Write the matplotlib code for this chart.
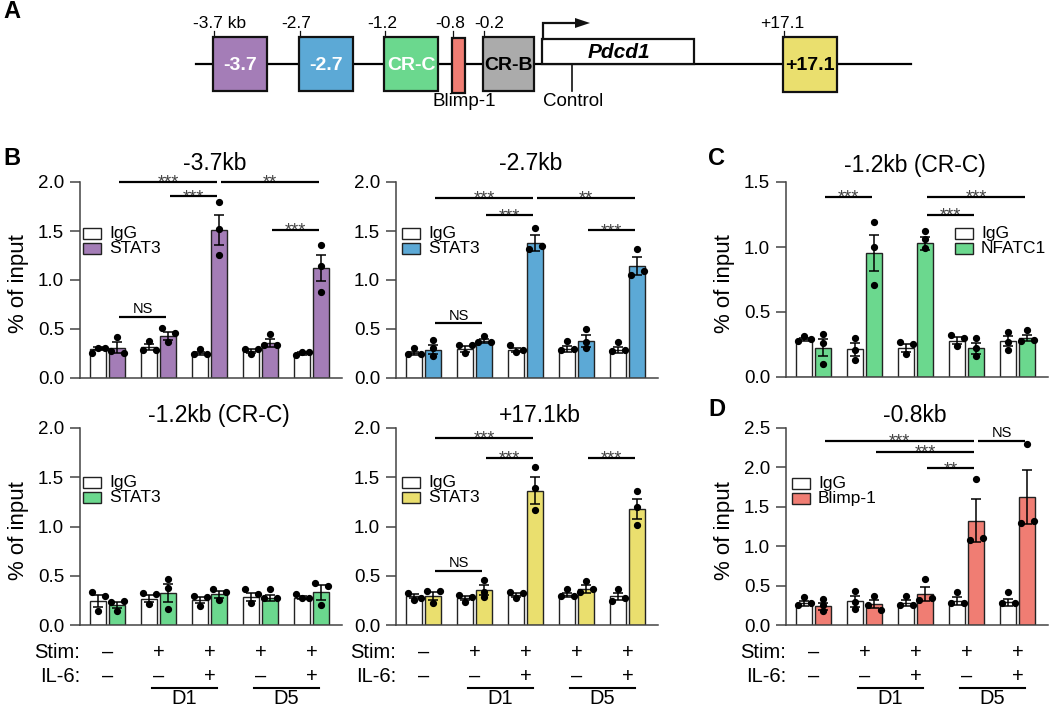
import matplotlib
matplotlib.use('Agg')
import matplotlib.pyplot as plt
from matplotlib.patches import Rectangle, Polygon
import numpy as np

plt.rcParams['font.family'] = ['Liberation Sans', 'DejaVu Sans']

# ------------------------------------------------------------------ data
stim_signs = ['–', '+', '+', '+', '+']
il6_signs = ['–', '–', '+', '–', '+']
day_names = ['D1', 'D5']
day_groups = [(1, 2), (3, 4)]

# -3.7 kb, STAT3
m37_igg = [0.30, 0.32, 0.25, 0.28, 0.25]
m37_igg_sem = [0.015, 0.03, 0.02, 0.02, 0.015]
m37_igg_pts = [[0.26, 0.31, 0.31], [0.29, 0.38, 0.29], [0.24, 0.30, 0.24], [0.30, 0.24, 0.30], [0.23, 0.27, 0.27]]
m37_tgt = [0.31, 0.43, 1.51, 0.36, 1.12]
m37_tgt_sem = [0.055, 0.04, 0.155, 0.04, 0.135]
m37_tgt_pts = [[0.42, 0.28, 0.25], [0.51, 0.46, 0.37], [1.80, 1.52, 1.26], [0.34, 0.45, 0.34], [1.36, 1.14, 0.88]]
m37_sig = [(0, 2, 2.0, '***'), (1, 2, 1.855, '***'), (2, 4, 2.0, '**'), (3, 4, 1.515, '***'), (0, 1, 0.627, 'NS')]

# -2.7 kb, STAT3
m27_igg = [0.25, 0.30, 0.29, 0.30, 0.29]
m27_igg_sem = [0.02, 0.03, 0.02, 0.03, 0.03]
m27_igg_pts = [[0.245, 0.31, 0.245], [0.34, 0.26, 0.34], [0.34, 0.27, 0.29], [0.29, 0.38, 0.30], [0.28, 0.365, 0.29]]
m27_tgt = [0.29, 0.38, 1.38, 0.38, 1.14]
m27_tgt_sem = [0.05, 0.02, 0.08, 0.06, 0.09]
m27_tgt_pts = [[0.39, 0.305, 0.22], [0.37, 0.43, 0.37], [1.315, 1.53, 1.35], [0.505, 0.37, 0.305], [1.05, 1.32, 1.09]]
m27_sig = [(0, 2, 1.837, '***'), (1, 2, 1.661, '***'), (2, 4, 1.837, '**'), (3, 4, 1.508, '***'), (0, 1, 0.559, 'NS')]

# -1.2 kb (CR-C), NFATC1
c12n_igg = [0.29, 0.215, 0.225, 0.28, 0.275]
c12n_igg_sem = [0.01, 0.05, 0.03, 0.025, 0.04]
c12n_igg_pts = [[0.277, 0.313, 0.295], [0.303, 0.205, 0.133], [0.27, 0.18, 0.256], [0.32, 0.238, 0.30], [0.346, 0.27, 0.205]]
c12n_tgt = [0.225, 0.955, 1.03, 0.22, 0.30]
c12n_tgt_sem = [0.065, 0.14, 0.05, 0.045, 0.025]
c12n_tgt_pts = [[0.328, 0.264, 0.10], [1.19, 1.0, 0.705], [1.12, 1.065, 0.99], [0.30, 0.225, 0.16], [0.277, 0.36, 0.287]]
c12n_sig = [(0, 1, 1.385, '***'), (2, 4, 1.385, '***'), (2, 3, 1.249, '***')]

# -1.2 kb (CR-C), STAT3
c12s_igg = [0.245, 0.265, 0.25, 0.285, 0.275]
c12s_igg_sem = [0.06, 0.035, 0.03, 0.04, 0.015]
c12s_igg_pts = [[0.34, 0.29, 0.146], [0.32, 0.21, 0.31], [0.29, 0.193, 0.28], [0.363, 0.315, 0.22], [0.315, 0.27, 0.27]]
c12s_tgt = [0.205, 0.322, 0.31, 0.275, 0.33]
c12s_tgt_sem = [0.03, 0.09, 0.035, 0.03, 0.08]
c12s_tgt_pts = [[0.237, 0.146, 0.247], [0.464, 0.373, 0.16], [0.366, 0.254, 0.34], [0.27, 0.363, 0.27], [0.43, 0.203, 0.40]]
c12s_sig = []

# +17.1 kb, STAT3
p171_igg = [0.29, 0.275, 0.305, 0.30, 0.29]
p171_igg_sem = [0.02, 0.02, 0.02, 0.02, 0.035]
p171_igg_pts = [[0.32, 0.254, 0.27], [0.305, 0.237, 0.288], [0.33, 0.27, 0.32], [0.295, 0.363, 0.295], [0.247, 0.366, 0.27]]
p171_tgt = [0.29, 0.356, 1.365, 0.366, 1.18]
p171_tgt_sem = [0.04, 0.05, 0.14, 0.04, 0.10]
p171_tgt_pts = [[0.345, 0.227, 0.345], [0.457, 0.34, 0.28], [1.60, 1.39, 1.163], [0.332, 0.447, 0.366], [1.356, 1.20, 1.017]]
p171_sig = [(0, 2, 1.898, '***'), (1, 2, 1.695, '***'), (3, 4, 1.695, '***'), (0, 1, 0.553, 'NS')]

# -0.8 kb, Blimp-1
m08_igg = [0.275, 0.30, 0.275, 0.30, 0.29]
m08_igg_sem = [0.03, 0.07, 0.04, 0.05, 0.045]
m08_igg_pts = [[0.254, 0.36, 0.275], [0.436, 0.297, 0.2], [0.254, 0.37, 0.254], [0.275, 0.424, 0.275], [0.275, 0.415, 0.275]]
m08_tgt = [0.235, 0.265, 0.395, 1.326, 1.623]
m08_tgt_sem = [0.045, 0.05, 0.09, 0.27, 0.34]
m08_tgt_pts = [[0.33, 0.26, 0.178], [0.37, 0.254, 0.19], [0.318, 0.585, 0.34], [1.08, 1.85, 1.10], [1.29, 2.30, 1.326]]
m08_sig = [(0, 3, 2.34, '***'), (1, 3, 2.195, '***'), (2, 3, 1.99, '**'), (3, 4, 2.34, 'NS')]

# ------------------------------------------------------------------ style
PURPLE = '#A47DB7'
BLUE = '#5CA9D6'
GREEN = '#6BD88E'
SALMON = '#F07D73'
GRAY = '#ABABAB'
YELLOW = '#EADF6E'
SPINE = '#444444'

W, H = 1050, 709
fig = plt.figure(figsize=(W / 100, H / 100), dpi=100)

def add_ax(x0, ytop, w, h):
    return fig.add_axes([x0 / W, 1 - (ytop + h) / H, w / W, h / H])

GROUP_PX = 51.0
XL = (-0.545, -0.545 + 262 / GROUP_PX)
OFF = 0.186
BW = 0.32
STEP = 6.5 / GROUP_PX

def swarm(vals, pxu):
    vals = np.asarray(vals, float)
    order = np.argsort(vals, kind='stable')
    offs = np.zeros(len(vals))
    clusters, cur = [], [order[0]]
    for i in order[1:]:
        if (vals[i] - vals[cur[-1]]) * pxu < 5.5:
            cur.append(i)
        else:
            clusters.append(cur)
            cur = [i]
    clusters.append(cur)
    for c in clusters:
        n = len(c)
        pat = [0] if n == 1 else ([-1, 1] if n == 2 else [-1, 0, 1])
        for k, i in enumerate(sorted(c)):
            offs[i] = pat[k] * STEP
    return offs

panels = [
    dict(rect=(80, 182, 262, 196), title='-3.7kb', tpos=(215, 170), tgt='STAT3', color=PURPLE, ymax=2.0,
         igg=(m37_igg, m37_igg_sem, m37_igg_pts), t=(m37_tgt, m37_tgt_sem, m37_tgt_pts), sig=m37_sig,
         ylabel=True, xrows=False, leg=(83, 228)),
    dict(rect=(396, 182, 262, 196), title='-2.7kb', tpos=(531, 170), tgt='STAT3', color=BLUE, ymax=2.0,
         igg=(m27_igg, m27_igg_sem, m27_igg_pts), t=(m27_tgt, m27_tgt_sem, m27_tgt_pts), sig=m27_sig,
         ylabel=False, xrows=False, leg=(402, 228)),
    dict(rect=(786, 182, 262, 195), title='-1.2kb (CR-C)', tpos=(915, 172), tgt='NFATC1', color=GREEN, ymax=1.5,
         igg=(c12n_igg, c12n_igg_sem, c12n_igg_pts), t=(c12n_tgt, c12n_tgt_sem, c12n_tgt_pts), sig=c12n_sig,
         ylabel=True, xrows=False, leg=(955, 228)),
    dict(rect=(80, 428, 262, 197), title='-1.2kb (CR-C)', tpos=(219, 422), tgt='STAT3', color=GREEN, ymax=2.0,
         igg=(c12s_igg, c12s_igg_sem, c12s_igg_pts), t=(c12s_tgt, c12s_tgt_sem, c12s_tgt_pts), sig=c12s_sig,
         ylabel=True, xrows=True, leg=(83, 477)),
    dict(rect=(396, 428, 262, 197), title='+17.1kb', tpos=(540, 422), tgt='STAT3', color=YELLOW, ymax=2.0,
         igg=(p171_igg, p171_igg_sem, p171_igg_pts), t=(p171_tgt, p171_tgt_sem, p171_tgt_pts), sig=p171_sig,
         ylabel=False, xrows=True, leg=(402, 477)),
    dict(rect=(786, 428, 262, 197), title='-0.8kb', tpos=(915, 422), tgt='Blimp-1', color=SALMON, ymax=2.5,
         igg=(m08_igg, m08_igg_sem, m08_igg_pts), t=(m08_tgt, m08_tgt_sem, m08_tgt_pts), sig=m08_sig,
         ylabel=True, xrows=True, leg=(792, 478)),
]

legend_items = []
title_items = []

for p in panels:
    x0, ytop, w, h = p['rect']
    ax = add_ax(x0, ytop, w, h)
    ymax = p['ymax']
    pxu = h / ymax
    g = np.arange(5)
    for (means, sems, pts), dx, fc in [(p['igg'], -OFF, 'white'), (p['t'], OFF, p['color'])]:
        ax.bar(g + dx, means, width=BW, color=fc, edgecolor='#222222', linewidth=1.0, zorder=2)
        ax.errorbar(g + dx, means, yerr=sems, fmt='none', ecolor='black', elinewidth=1.1,
                    capsize=3.6, capthick=1.1, zorder=3, clip_on=False)
        for gi in range(5):
            offs = swarm(pts[gi], pxu)
            ax.plot(gi + dx + offs, pts[gi], 'o', color='black', ms=4.2, mec='black',
                    zorder=4, clip_on=False)
    # significance brackets (between target bars)
    for a, b, yv, lab in p['sig']:
        xa, xb = a + OFF + 0.04, b + OFF - 0.04
        ax.plot([xa, xb], [yv, yv], color='black', lw=1.6, solid_capstyle='butt', clip_on=False, zorder=5)
        if lab == 'NS':
            ax.annotate(lab, xy=((xa + xb) / 2, yv), xytext=(0, 2.6), textcoords='offset points',
                        ha='center', va='baseline', fontsize=10.5, color='black')
        else:
            ax.annotate(lab, xy=((xa + xb) / 2, yv), xytext=(0, -4.2), textcoords='offset points',
                        ha='center', va='baseline', fontsize=13, color='#444444')
    ax.set_xlim(*XL)
    ax.set_ylim(0, ymax)
    ax.set_yticks(np.arange(0, ymax + 0.01, 0.5))
    ax.set_yticklabels(['%.1f' % v for v in np.arange(0, ymax + 0.01, 0.5)])
    ax.set_xticks([])
    for s in ['top', 'right']:
        ax.spines[s].set_visible(False)
    for s in ['left', 'bottom']:
        ax.spines[s].set_color(SPINE)
        ax.spines[s].set_linewidth(1.1)
    ax.tick_params(axis='y', length=7.2, width=1.1, color=SPINE, labelsize=13.5, pad=4.3)
    ax.patch.set_alpha(0)
    if p['ylabel']:
        ax.set_ylabel('% of input', fontsize=16, va='center')
        ax.yaxis.set_label_coords(-0.233, 0.48)
    if p['xrows']:
        tr = ax.get_xaxis_transform()
        yb = lambda ypx: (ytop + h - ypx) / h
        ax.text(0.0, yb(658), 'Stim:', transform=ax.transAxes, ha='right', va='baseline', fontsize=14.5)
        ax.text(0.0, yb(682), 'IL-6:', transform=ax.transAxes, ha='right', va='baseline', fontsize=14.5)
        for gi in range(5):
            ax.text(gi, yb(658), stim_signs[gi], transform=tr, ha='center', va='baseline', fontsize=14.5)
            ax.text(gi, yb(682), il6_signs[gi], transform=tr, ha='center', va='baseline', fontsize=14.5)
        for name, (ga, gb) in zip(day_names, day_groups):
            ax.plot([ga - 0.13, gb + 0.14], [yb(688), yb(688)], color='black', lw=1.5,
                    transform=tr, clip_on=False)
            ax.text((ga + gb) / 2, yb(703.5), name, transform=tr, ha='center', va='baseline', fontsize=14.5)
    legend_items.append((p['leg'], p['tgt'], p['color']))
    title_items.append((p['tpos'], p['title']))

# ------------------------------------------------------------------ overlay (pixel space)
ov = fig.add_axes([0, 0, 1, 1])
ov.set_xlim(0, W)
ov.set_ylim(H, 0)
ov.axis('off')
ov.patch.set_alpha(0)

for (lx, ly), name, col in legend_items:
    for k, (lab, fc) in enumerate([('IgG', 'white'), (name, col)]):
        yy = ly + k * 15
        ov.add_patch(Rectangle((lx, yy), 18, 10.5, facecolor=fc, edgecolor='#222222', lw=1.0))
        ov.text(lx + 26, yy + 5.5, lab, ha='left', va='center', fontsize=12.5)

for (tx, ty), t in title_items:
    ov.text(tx, ty, t, ha='center', va='baseline', fontsize=16.5)

# panel letters
for lab, (lx, ly) in [('A', (3, 18)), ('B', (3, 165)), ('C', (708, 165)), ('D', (708, 416))]:
    ov.text(lx, ly, lab, ha='left', va='baseline', fontsize=17, fontweight='bold')

# ---- panel A: Pdcd1 locus schematic
ov.plot([196, 911], [64, 64], color='black', lw=1.6, zorder=1)
elements = [
    # (left, right, top, bottom, face, inside label, inside colour, top label, top label x)
    (213, 267, 37, 91, PURPLE, '-3.7', 'white', '-3.7 kb', 193),
    (299, 353, 37, 91, BLUE, '-2.7', 'white', '-2.7', 281),
    (384, 438, 37, 91, GREEN, 'CR-C', 'white', '-1.2', 367),
    (452, 465, 38, 93, SALMON, '', 'black', '-0.8', 435),
    (483, 534, 37, 91, GRAY, 'CR-B', 'black', '-0.2', 474),
    (783, 837, 37, 92, YELLOW, '+17.1', 'black', '+17.1', 760),
]
for l, r, t, b, fc, lab, tc, toplab, tlx in elements:
    ov.add_patch(Rectangle((l, t), r - l, b - t, facecolor=fc, edgecolor='#111111', lw=1.6, zorder=2))
    if lab:
        ov.text((l + r) / 2, (t + b) / 2 + 1, lab, ha='center', va='center', fontsize=14,
                fontweight='bold', color=tc, zorder=3)
    ov.plot([l + 0.5, l + 0.5], [31, t], color='#111111', lw=0.9)
    ov.text(tlx, 28.5, toplab, ha='left', va='baseline', fontsize=12.5)

# Pdcd1 gene box
ov.add_patch(Rectangle((542, 39), 152, 25, facecolor='white', edgecolor='#111111', lw=1.6, zorder=2))
ov.text(619, 52, 'Pdcd1', ha='center', va='center', fontsize=15, fontweight='bold', fontstyle='italic', zorder=3)
# TSS arrow
ov.plot([542.5, 542.5, 577], [39, 23, 23], color='#111111', lw=1.6, solid_joinstyle='miter')
ov.add_patch(Polygon([[575, 18], [590, 23], [575, 28]], closed=True, facecolor='#111111', edgecolor='none'))
# control region
ov.plot([572, 572], [64, 91], color='#111111', lw=1.2)
ov.text(573, 102, 'Control', ha='center', va='center', fontsize=13.5)
ov.text(464, 102, 'Blimp-1', ha='center', va='center', fontsize=13.5)

fig.savefig('out.png', dpi=100)
